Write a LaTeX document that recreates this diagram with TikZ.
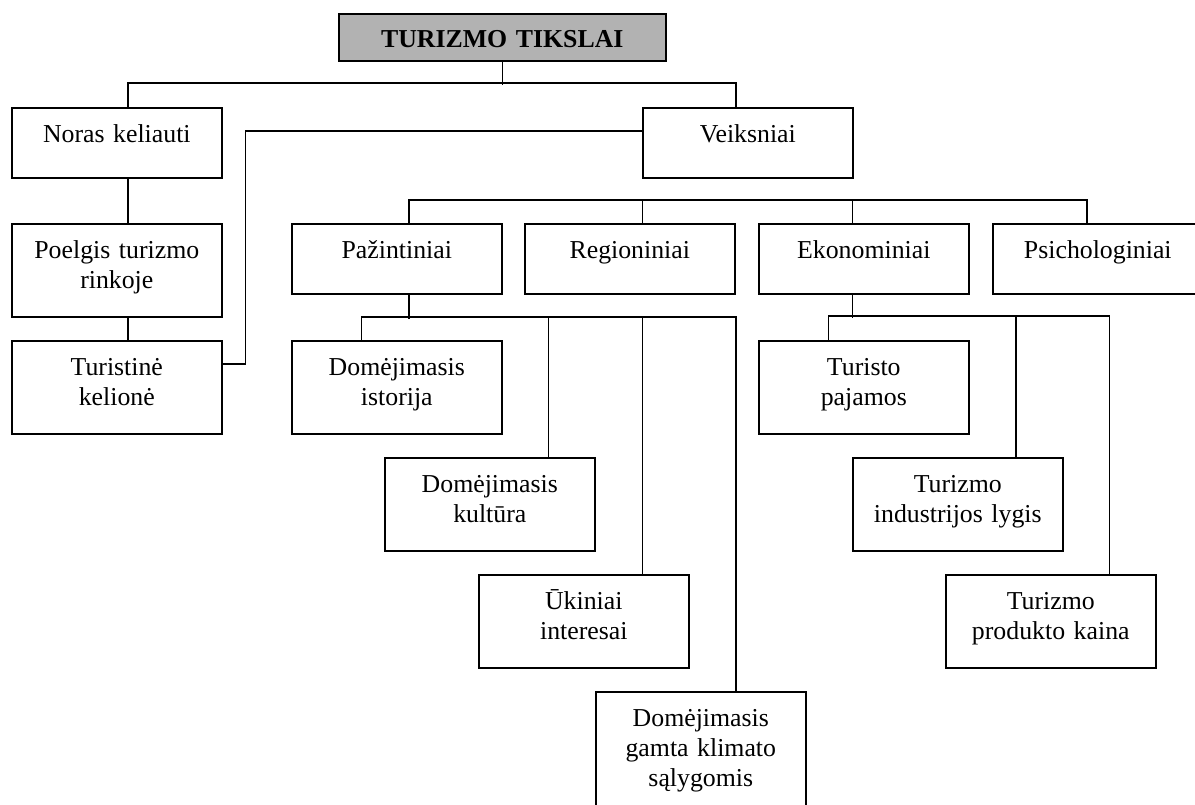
\documentclass[tikz,border=0pt]{standalone}
\usepackage{fontspec}
\setmainfont{Liberation Serif}
\begin{document}
\begin{tikzpicture}[x=1pt,y=-1pt,
  line width=1.6pt,
  every node/.style={inner sep=0pt, anchor=north west, align=center,
    font=\fontsize{25.8pt}{29.7pt}\selectfont},
  boxa/.style={draw, text width=210pt, text height=35pt, text depth=35pt},
  boxb/.style={draw, text width=210pt, text height=35pt, text depth=58pt},
  boxc/.style={draw, text width=210pt, text height=35pt, text depth=100pt},
  titlebox/.style={draw, fill=black!30, text width=327pt, text height=34pt,
    text depth=13pt, font=\fontsize{25.8pt}{29.7pt}\selectfont\bfseries}]
\useasboundingbox (0,0) rectangle (1195,805);
\clip (0,0) rectangle (1195,805);

% top of the tree
\node[titlebox] (title) at (338,13) {TURIZMO TIKSLAI};

% left branch
\node[boxa] (noras) at (11,107) {Noras keliauti};
\node[boxb] (poelgis) at (11,223) {Poelgis turizmo\\rinkoje};
\node[boxb] (kelione) at (11,340) {Turistinė\\kelionė};

% factors
\node[boxa] (veiksniai) at (642,107) {Veiksniai};
\node[boxa] (pazint) at (291,223) {Pažintiniai};
\node[boxa] (region) at (524,223) {Regioniniai};
\node[boxa] (ekon) at (758,223) {Ekonominiai};
\node[boxa] (psich) at (992,223) {Psichologiniai};

% cognitive factors
\node[boxb] (istorija) at (291,340) {Domėjimasis\\istorija};
\node[boxb] (kultura) at (384,457) {Domėjimasis\\kultūra};
\node[boxb] (ukiniai) at (478,574) {Ūkiniai\\interesai};
\node[boxc] (gamta) at (595,691) {Domėjimasis\\gamta klimato\\sąlygomis};

% economic factors
\node[boxb] (pajamos) at (758,340) {Turisto\\pajamos};
\node[boxb] (industr) at (852,457) {Turizmo\\industrijos lygis};
\node[boxb] (kaina) at (945,574) {Turizmo\\produkto kaina};

% connectors
\draw (title.south) -- ++(0,23);
\draw ([xshift=11pt]noras.north) -- ++(0,-24) -| ([xshift=-12pt]veiksniai.north);
\draw ([xshift=11pt]noras.south) -- ([xshift=11pt]poelgis.north);
\draw ([xshift=11pt]poelgis.south) -- ([xshift=11pt]kelione.north);
\draw ([yshift=23.5pt]kelione.east) -- ++(23,0) |- ([yshift=12pt]veiksniai.west);

\draw ([xshift=12pt]pazint.north) -- ++(0,-23) -| ([xshift=-11pt]psich.north);
\draw ([xshift=12.5pt]region.north) -- ++(0,-23);
\draw ([xshift=-11.5pt]ekon.north) -- ++(0,-23);

\draw ([xshift=12pt]pazint.south) -- ++(0,24);
\draw ([xshift=-35.5pt]istorija.north) -- ++(0,-23) -| ([xshift=35pt]gamta.north);
\draw ([xshift=58.5pt]kultura.north) -- ++(0,-140);
\draw ([xshift=58.5pt]ukiniai.north) -- ++(0,-257);

\draw ([xshift=-11.5pt]ekon.south) -- ++(0,23);
\draw ([xshift=-35.5pt]pajamos.north) -- ++(0,-24) -| ([xshift=58.5pt]kaina.north);
\draw ([xshift=58pt]industr.north) -- ++(0,-141);
\end{tikzpicture}
\end{document}
